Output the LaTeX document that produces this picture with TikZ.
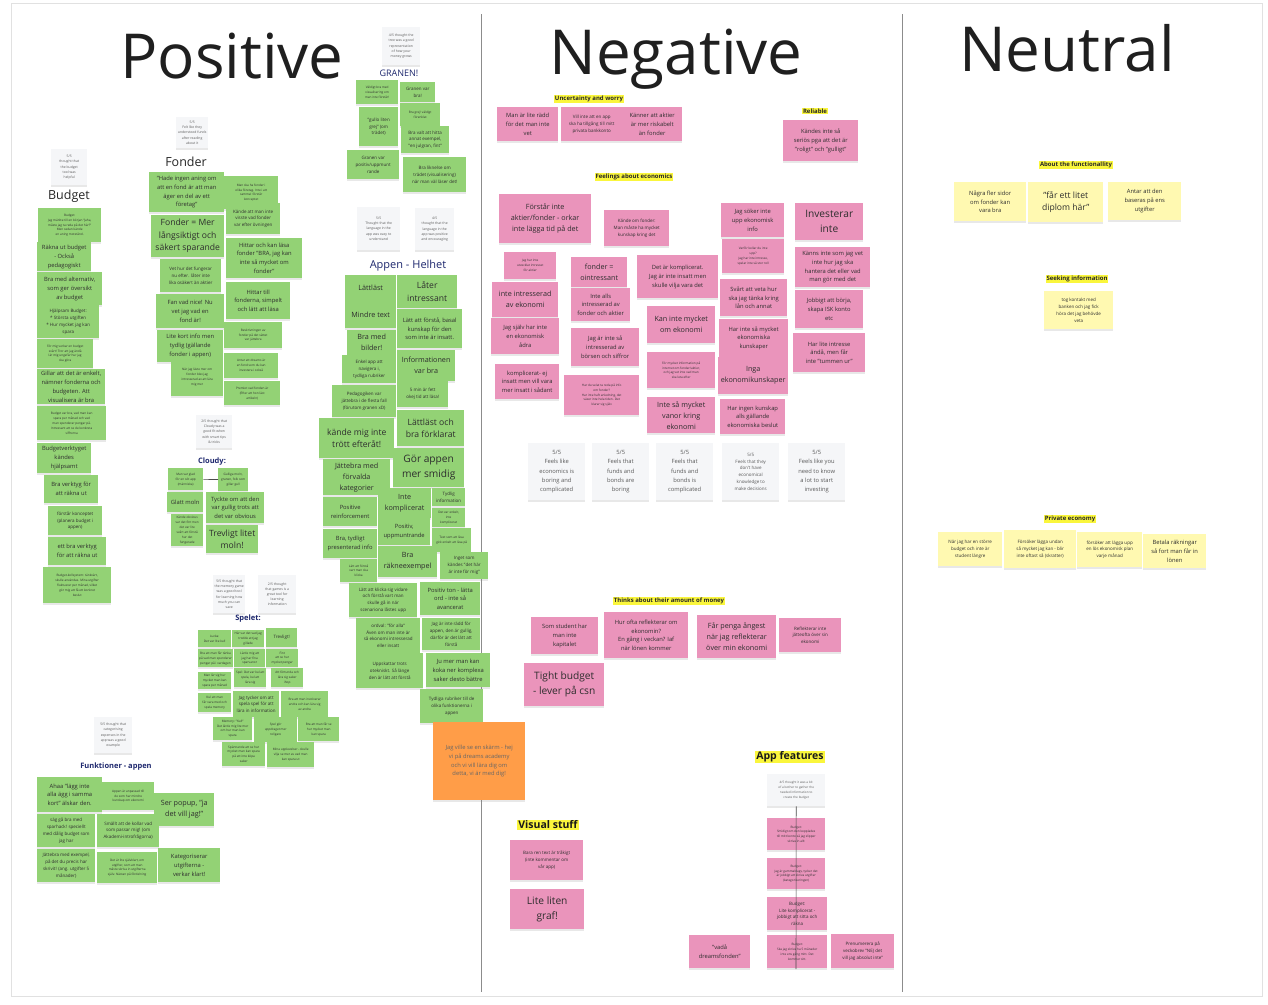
\documentclass[tikz,border=0pt]{standalone}
\usepackage{fontspec}
\setmainfont{Open Sans}
\usetikzlibrary{shadows}
\definecolor{NoteGreen}{RGB}{147,210,117}
\definecolor{NotePink}{RGB}{234,148,187}
\definecolor{NoteYellow}{RGB}{255,249,177}
\definecolor{NoteGray}{RGB}{245,246,248}
\definecolor{NoteOrange}{RGB}{255,157,72}
\definecolor{MarkYellow}{RGB}{250,246,60}
\definecolor{LabelNavy}{RGB}{30,40,110}
\definecolor{NoteText}{RGB}{45,45,45}
\definecolor{FrameGray}{RGB}{225,225,225}
\definecolor{SplitGray}{RGB}{140,140,140}

\begin{document}
\begin{tikzpicture}[x=1pt,y=-1pt,
  note/.style={anchor=north west, inner sep=1pt, align=center, text=NoteText,
    drop shadow={shadow xshift=0pt, shadow yshift=-2pt, opacity=0.18}},
  sz/.style 2 args={minimum width=#1pt, minimum height=#2pt},
  gnote/.style={note, fill=NoteGreen},
  pnote/.style={note, fill=NotePink},
  ynote/.style={note, fill=NoteYellow},
  wnote/.style={note, fill=NoteGray, text=black!65},
  onote/.style={note, fill=NoteOrange, text=black!60},
  fA/.style={font=\fontsize{3.1}{4.9}\selectfont},
  fG/.style={font=\fontsize{3.4}{5.2}\selectfont},
  fB/.style={font=\fontsize{4.5}{6.8}\selectfont},
  fC/.style={font=\fontsize{5.8}{8.8}\selectfont},
  fQ/.style={font=\fontsize{5.8}{9.2}\selectfont},
  fD/.style={font=\fontsize{7.2}{11}\selectfont},
  fE/.style={font=\fontsize{8.6}{12.5}\selectfont},
  fF/.style={font=\fontsize{10.2}{15}\selectfont},
  title/.style={anchor=base, inner sep=0pt, text=black!88, font=\fontsize{62}{70}\selectfont},
  cat/.style={inner sep=0pt, text=black!85, font=\fontsize{12.5}{14}\selectfont},
  subcat/.style={inner sep=0pt, text=LabelNavy, font=\bfseries\fontsize{7.5}{9}\selectfont},
  tagmark/.style={fill=MarkYellow, inner sep=0.7pt, text=black!85, font=\bfseries\fontsize{6}{7}\selectfont},
  bigtag/.style={fill=MarkYellow, inner sep=1pt, text=black!90, font=\bfseries\fontsize{10.5}{12}\selectfont},
  link/.style={draw=black!70, line width=0.6pt},
  frame/.style={draw=FrameGray, line width=0.8pt},
  divider/.style={draw=SplitGray, line width=0.8pt}]

  \fill[white] (0,0) rectangle (1268,1004);
  \useasboundingbox (0,0) rectangle (1268,1004);
  \draw[frame] (11,3) rectangle (1262,996);
  \draw[divider] (481,14) -- (481,992);
  \draw[divider] (902,14) -- (902,992);

  \node[title] (tpos) at (232,78) {Positive};
  \node[title] (tneg) at (676,74) {Negative};
  \node[title] (tneu) at (1067,71) {Neutral};

  % Positive -- Budget
  \node[wnote, sz={36}{36}, fG] (wbud) at (51,149) {5/5\\ thought that\\ the budget\\ tool was\\ helpful};
  \node[cat] (lbud) at (69,196) {Budget};
  \node[gnote, sz={63}{34}, fA] (b1) at (38,208) {Budget:\\ Jag märkte till en början "Jaha,\\ måste jag ta reda på det här?"\\ Men sedan kände\\ en aning motstånd.};
  \node[gnote, sz={54}{29}, fC] (b2) at (37,242) {Räkna ut budget\\ - Också\\ pedagogiskt};
  \node[gnote, sz={65}{33}, fC] (b3) at (37,272) {Bra med alternativ,\\ som ger översikt\\ av budget};
  \node[gnote, sz={62}{33}, fB] (b4) at (37,305) {Hjälpsam Budget:\\ * Största utgiften\\ * Hur mycket jag kan\\ spara};
  \node[gnote, sz={56}{29}, fA] (b5) at (37,339) {För mig verkar en budget\\ svårt! Tror att jag ändå\\ lär mig ungefär hur jag\\ ska göra};
  \node[gnote, sz={68}{35}, fC] (b6) at (37,369) {Gillar att det är enkelt,\\ nämner fonderna och\\ budgeten. Att\\ visualisera är bra};
  \node[gnote, sz={69}{34}, fA] (b7) at (37,406) {Budget var bra, vad man kan\\ spara per månad och vad\\ man spenderar pengar på.\\ Intressant att se de konkreta\\ siffrorna};
  \node[gnote, sz={54}{30}, fC] (b8) at (37,443) {Budgetverktyget\\ kändes\\ hjälpsamt};
  \node[gnote, sz={54}{28}, fC] (b9) at (44,475) {Bra verktyg för\\ att räkna ut};
  \node[gnote, sz={54}{29}, fB] (b10) at (48,506) {förstår konceptet\\ (planera budget i\\ appen)};
  \node[gnote, sz={58}{28}, fC] (b11) at (48,537) {ett bra verktyg\\ för att räkna ut};
  \node[gnote, sz={68}{36}, fA] (b12) at (43,567) {Budget-kollsystem: tänkvärt,\\ skulle användas. Mina utgifter\\ fluktuerar per månad, vilket\\ gör mig att få ett konkret\\ beslut};

  % Positive -- Fonder
  \node[wnote, sz={32}{31}, fG] (wfon) at (176,117) {5/5\\ Felt like they\\ understood funds\\ after reading\\ about it};
  \node[cat] (lfon) at (186,162) {Fonder};
  \node[gnote, sz={75}{40}, fC] (f1) at (149,172) {"Hade ingen aning om\\ att en fond är att man\\ äger en del av ett\\ företag"};
  \node[gnote, sz={73}{42}, fE] (f2) at (151,215) {Fonder = Mer\\ långsiktigt och\\ säkert sparande};
  \node[gnote, sz={61}{33}, fB] (f3) at (160,259) {Vet hur det fungerar\\ nu efter. låter inte\\ lika osäkert än aktier};
  \node[gnote, sz={68}{34}, fC] (f4) at (156,294) {Fan vad nice! Nu\\ vet jag vad en\\ fond är!};
  \node[gnote, sz={66}{32}, fC] (f5) at (157,330) {Lite kort info men\\ tydlig (gällande\\ fonder i appen)};
  \node[gnote, sz={52}{38}, fA] (f6) at (171,358) {När jag läste mer om\\ fonder blev jag\\ intresserad av att lära\\ mig mer};
  \node[gnote, sz={54}{33}, fA] (f7) at (224,176) {Man ska ha fonder i\\ olika företag. Inte i att\\ samma! förstår\\ konceptet};
  \node[gnote, sz={54}{31}, fB] (f8) at (226,203) {Kände att man inte\\ visste vad fonder\\ var efter övningen};
  \node[gnote, sz={76}{40}, fC] (f9) at (226,238) {Hittar och kan läsa\\ fonder "BRA, jag kan\\ inte så mycket om\\ fonder"};
  \node[gnote, sz={64}{37}, fC] (f10) at (226,282) {Hittar till\\ fonderna, simpelt\\ och lätt att läsa};
  \node[gnote, sz={58}{26}, fA] (f11) at (224,322) {Beskrivningen av\\ fonder på det sättet\\ var jättebra};
  \node[gnote, sz={54}{25}, fA] (f12) at (224,353) {Antar att dreams är\\ en fond som du kan\\ investera i också};
  \node[gnote, sz={56}{24}, fA] (f13) at (224,381) {Premiot vad fonden är\\ (Efter att hon läst\\ artikeln)};

  % Positive -- Cloudy
  \node[wnote, sz={36}{33}, fG] (wcl) at (196,415) {2/5 thought that\\ Cloudy was a\\ good fit when\\ with smart tips\\ \& tricks};
  \node[subcat] (lcl) at (212,462) {Cloudy:};
  \node[gnote, sz={35}{22}, fA] (cl1) at (168,468) {Man var glad\\ för en söt app\\ (människa)};
  \node[gnote, sz={30}{23}, fA] (cl2) at (218,468) {Gulliga moln,\\ granen, folk som\\ gillar gull};
  \node[gnote, sz={36}{20}, fC] (cl3) at (167,492) {Glatt moln};
  \node[gnote, sz={58}{31}, fC] (cl4) at (206,492) {Tyckte om att den\\ var gullig trots att\\ det var obvious};
  \node[gnote, sz={32}{32}, fA] (cl5) at (171,514) {Kände obvious\\ var det fint men\\ det var lite\\ svårt att förstå\\ hur det\\ fungerade};
  \node[gnote, sz={52}{28}, fE] (cl6) at (206,525) {Trevligt litet\\ moln!};
  \draw[link] (cl1) -- (cl2);

  % Positive -- Spelet
  \node[wnote, sz={32}{38}, fG] (wsp1) at (213,575) {5/5 thought that\\ the memory game\\ was a good tool\\ for learning how\\ much you can\\ save};
  \node[wnote, sz={38}{38}, fG] (wsp2) at (258,575) {2/5 thought\\ that games is a\\ great tool for\\ learning\\ information};
  \node[subcat] (lsp) at (248,619) {Spelet:};
  \node[gnote, sz={33}{17}, fA] (sp1) at (198,630) {Lucka:\\ Det var lite kul!};
  \node[gnote, sz={32}{17}, fA] (sp2) at (232,630) {Här var det vad jag\\ trodde att jag\\ gillade};
  \node[gnote, sz={31}{19}, fB] (sp3) at (266,628) {Trevligt!};
  \node[gnote, sz={33}{18}, fA] (sp4) at (198,649) {Bra att man får tänka\\ på vad man spenderar\\ pengar på i vardagen};
  \node[gnote, sz={31}{18}, fA] (sp5) at (234,649) {Lärde mig att\\ jag har fina\\ sparvanor};
  \node[gnote, sz={32}{18}, fA] (sp6) at (266,649) {Fint\\ att se hur\\ mycket pengar};
  \node[gnote, sz={33}{17}, fA] (sp7) at (198,672) {Man lär sig hur\\ mycket man kan\\ spara per månad};
  \node[gnote, sz={32}{19}, fA] (sp8) at (234,668) {Spel: Det var kul att\\ spela, kul att\\ lära sig};
  \node[gnote, sz={32}{19}, fA] (sp9) at (271,668) {Att förtunda och\\ lära sig saker\\ ihop};
  \node[gnote, sz={33}{19}, fA] (sp10) at (198,693) {Kul att man\\ får vara med och\\ spela memory};
  \node[gnote, sz={46}{26}, fB] (sp11) at (233,691) {Jag tycker om att\\ spela spel för att\\ lära in information};
  \node[gnote, sz={47}{26}, fA] (sp12) at (281,691) {Bra att man involverar\\ andra och kan lära sig\\ av andra};
  \node[gnote, sz={39}{23}, fA] (sp13) at (213,717) {Memory: "Kul!"\\ Det lärde mig lite mer\\ om hur man kan\\ spara};
  \node[gnote, sz={43}{25}, fA] (sp14) at (254,717) {Spel gör\\ uppdraget mer\\ roligare};
  \node[gnote, sz={41}{24}, fA] (sp15) at (298,717) {Bra att man får se\\ hur mycket man\\ kan spara};
  \node[gnote, sz={43}{24}, fA] (sp16) at (222,742) {Spännande att se hur\\ mycket man kan spara\\ på att inte köpa\\ saker};
  \node[gnote, sz={47}{25}, fA] (sp17) at (267,742) {Mina upplevelser - skulle\\ vilja se mer av vad man\\ kan spara ut};

  % Positive -- Funktioner
  \node[wnote, sz={38}{36}, fG] (wfu) at (94,717) {5/5 thought that\\ categorising\\ expenses in the\\ app was a good\\ example};
  \node[subcat] (lfu) at (116,767) {Funktioner - appen};
  \node[gnote, sz={65}{35}, fC] (fu1) at (37,777) {Ahaa "lägg inte\\ alla ägg i samma\\ kort" älskar den.};
  \node[gnote, sz={52}{28}, fA] (fu2) at (102,782) {Appen är anpassad till\\ de som har mindre\\ kunskap om ekonomi};
  \node[gnote, sz={60}{33}, fD] (fu3) at (154,793) {Ser popup, "ja\\ det vill jag!"};
  \node[gnote, sz={58}{33}, fB] (fu4) at (37,814) {säg gå bra med\\ sparhack! speciellt\\ med dålig budget som\\ jag har};
  \node[gnote, sz={62}{33}, fB] (fu5) at (97,814) {Smällt att de kollar vad\\ som passar mig! (om\\ Akademi-introfrågorna)};
  \node[gnote, sz={58}{33}, fB] (fu6) at (37,849) {Jättebra med exempel,\\ på det du precis har\\ skrivit! (ang. utgifter 5\\ månader)};
  \node[gnote, sz={60}{31}, fA] (fu7) at (97,852) {Det är lite självklart, om\\ utgifter, som att man\\ måste skriva in utgifterna\\ själv. Nästan på fördelning};
  \node[gnote, sz={62}{34}, fC] (fu8) at (158,848) {Kategoriserar\\ utgifterna -\\ verkar klart!};

  % Positive -- Granen
  \node[wnote, sz={38}{38}, fG] (wgr) at (382,27) {4/5 thought the\\ tree was a good\\ representation\\ of how your\\ money grows};
  \node[inner sep=0pt, text=LabelNavy, font=\fontsize{9}{10}\selectfont] (lgr) at (399,73) {GRANEN!};
  \node[gnote, sz={42}{24}, fA] (gr1) at (356,80) {Väldigt bra med\\ visualisering om\\ man inte förstår!};
  \node[gnote, sz={35}{20}, fB] (gr2) at (400,82) {Granen var\\ bra!};
  \node[gnote, sz={39}{39}, fB] (gr3) at (359,107) {"gullo liten\\ grej" (om\\ trädet)};
  \node[gnote, sz={40}{23}, fA] (gr4) at (400,103) {Bra grej! väldigt\\ förenklat};
  \node[gnote, sz={48}{27}, fB] (gr5) at (401,126) {Bra valt att hitta\\ annat exempel,\\ "en julgran, fint"};
  \node[gnote, sz={52}{29}, fB] (gr6) at (347,150) {Granen var\\ positiv/uppmunt\\ rande};
  \node[gnote, sz={63}{35}, fB] (gr7) at (403,157) {Bra liknelse om\\ trädet (visualisering)\\ när man väl läser det!};

  % Positive -- Appen - Helhet
  \node[wnote, sz={43}{43}, fG] (wah1) at (357,207) {5/5\\ Thought that the\\ language in the\\ app was easy to\\ understand};
  \node[wnote, sz={39}{42}, fG] (wah2) at (415,208) {4/5\\ thought that the\\ language in the\\ app was positive\\ and encouraging};
  \node[inner sep=0pt, text=LabelNavy, font=\fontsize{11}{12}\selectfont] (lah) at (408,266) {Appen - Helhet};
  \node[gnote, sz={51}{26}, fD] (ah1) at (345,275) {Lättläst};
  \node[gnote, sz={60}{33}, fE] (ah2) at (397,275) {Låter\\ intressant};
  \node[gnote, sz={51}{27}, fD] (ah3) at (345,301) {Mindre text};
  \node[gnote, sz={65}{39}, fC] (ah4) at (397,309) {Lätt att förstå, basal\\ kunskap för den\\ som inte är insatt.};
  \node[gnote, sz={49}{25}, fD] (ah5) at (347,330) {Bra med\\ bilder!};
  \node[gnote, sz={58}{31}, fD] (ah6) at (397,350) {Informationen\\ var bra};
  \node[gnote, sz={54}{28}, fB] (ah7) at (342,355) {Enkel app att\\ navigera i,\\ tydliga rubriker};
  \node[gnote, sz={51}{26}, fB] (ah8) at (397,381) {5 min är fett\\ okej tid att läsa!};
  \node[gnote, sz={64}{32}, fB] (ah9) at (332,385) {Pedagogiken var\\ jättebra i de flesta fall\\ (förutom granen xD)};
  \node[gnote, sz={67}{36}, fE] (ah10) at (397,410) {Lättläst och\\ bra förklarat};
  \node[gnote, sz={75}{40}, fE] (ah11) at (319,418) {kände mig inte\\ trött efteråt!};
  \node[gnote, sz={71}{39}, fF] (ah12) at (393,448) {Gör appen\\ mer smidig};
  \node[gnote, sz={67}{36}, fD] (ah13) at (323,459) {Jättebra med\\ förvalda\\ kategorier};
  \node[gnote, sz={53}{30}, fD] (ah14) at (378,488) {Inte\\ komplicerat};
  \node[gnote, sz={33}{18}, fB] (ah15) at (432,488) {Tydlig\\ information};
  \node[gnote, sz={54}{29}, fC] (ah16) at (323,497) {Positive\\ reinforcement};
  \node[gnote, sz={33}{19}, fA] (ah17) at (432,508) {Det var enkelt,\\ inte\\ komplicerat};
  \node[gnote, sz={52}{27}, fC] (ah18) at (378,518) {Positiv,\\ uppmuntrande};
  \node[gnote, sz={54}{29}, fC] (ah19) at (323,529) {Bra, tydligt\\ presenterad info};
  \node[gnote, sz={39}{24}, fA] (ah20) at (432,528) {Text som att läsa\\ gick enkelt att läsa på};
  \node[gnote, sz={59}{31}, fD] (ah21) at (378,546) {Bra\\ räkneexempel};
  \node[gnote, sz={48}{27}, fB] (ah22) at (440,552) {Inget som\\ kändes "det här\\ är inte för mig"};
  \node[gnote, sz={37}{23}, fA] (ah23) at (340,559) {Lätt att förstå\\ vart man ska\\ klicka};
  \node[gnote, sz={68}{34}, fB] (ah24) at (349,583) {Lätt att klicka sig vidare\\ och förstå vart man\\ skulle gå in när\\ scenariona låstes upp};
  \node[gnote, sz={60}{33}, fC] (ah25) at (420,582) {Positiv ton - lätta\\ ord - inte så\\ avancerat};
  \node[gnote, sz={64}{35}, fB] (ah26) at (356,618) {ordval: "för alla"\\ Även om man inte är\\ så ekonomi intresserad\\ eller insatt};
  \node[gnote, sz={58}{32}, fB] (ah27) at (422,618) {Jag är inte rädd för\\ appen, den är gullig,\\ därför är det lätt att\\ förstå};
  \node[gnote, sz={67}{35}, fB] (ah28) at (356,653) {Uppskattar trots\\ otekniskt. Så länge\\ den är lätt att förstå};
  \node[gnote, sz={64}{34}, fC] (ah29) at (426,653) {Ju mer man kan\\ koka ner komplexa\\ saker desto bättre};
  \node[gnote, sz={63}{34}, fB] (ah30) at (420,689) {Tydliga rubriker till de\\ olika funktionerna i\\ appen};
  \node[onote, sz={92}{78}, fC] (or1) at (433,722) {Jag ville se en skärm - hej\\ vi på dreams academy\\ och vi vill lära dig om\\ detta, vi är med dig!};

  % Negative
  \node[tagmark] (luw) at (589,99) {Uncertainty and worry};
  \node[pnote, sz={61}{34}, fC] (uw1) at (497,107) {Man är lite rädd\\ för det man inte\\ vet};
  \node[pnote, sz={61}{34}, fB] (uw2) at (561,107) {Vill inte att en app\\ ska ha tillgång till mitt\\ privata bankkonto};
  \node[pnote, sz={60}{34}, fC] (uw3) at (622,107) {Känner att aktier\\ är mer riskabelt\\ än fonder};
  \node[tagmark] (lrel) at (815,111) {Reliable};
  \node[pnote, sz={75}{41}, fC] (rel1) at (783,120) {Kändes inte så\\ seriös pga att det är\\ "roligt" och "gulligt"};
  \node[tagmark] (lfe) at (634,177) {Feelings about economics};
  \node[pnote, sz={92}{49}, fD] (fe1) at (499,194) {Förstår inte\\ aktier/fonder - orkar\\ inte lägga tid på det};
  \node[pnote, sz={65}{36}, fB] (fe2) at (604,210) {Kände om fonder:\\ Man måste ha mycket\\ kunskap kring det};
  \node[pnote, sz={63}{34}, fC] (fe3) at (721,203) {Jag söker inte\\ upp ekonomisk\\ info};
  \node[pnote, sz={68}{37}, fF] (fe4) at (795,203) {Investerar\\ inte};
  \node[pnote, sz={52}{27}, fA] (fe5) at (504,252) {Jag har inte\\ utvecklat intresset\\ för aktier};
  \node[pnote, sz={56}{30}, fD] (fe6) at (571,257) {fonder =\\ ointressant};
  \node[pnote, sz={81}{43}, fC] (fe7) at (637,255) {Det är komplicerat.\\ Jag är inte insatt men\\ skulle vilja vara det};
  \node[pnote, sz={62}{34}, fA] (fe8) at (722,239) {Varför kollar du inte\\ upp?\\ Jag har inte intresse,\\ spelar inte så stor roll};
  \node[pnote, sz={75}{40}, fC] (fe9) at (795,247) {Känns inte som jag vet\\ inte hur jag ska\\ hantera det eller vad\\ man gör med det};
  \node[pnote, sz={66}{35}, fD] (fe10) at (492,282) {inte intresserad\\ av ekonomi};
  \node[pnote, sz={59}{33}, fC] (fe11) at (571,288) {Inte alls\\ intresserad av\\ fonder och aktier};
  \node[pnote, sz={67}{37}, fC] (fe12) at (720,279) {Svårt att veta hur\\ ska jag tänka kring\\ lån och annat};
  \node[pnote, sz={68}{38}, fC] (fe13) at (795,290) {Jobbigt att börja,\\ skapa ISK konto\\ etc};
  \node[pnote, sz={68}{36}, fC] (fe14) at (491,318) {Jag själv har inte\\ en ekonomisk\\ ådra};
  \node[pnote, sz={68}{37}, fD] (fe15) at (647,306) {Kan inte mycket\\ om ekonomi};
  \node[pnote, sz={68}{38}, fC] (fe16) at (571,328) {Jag är inte så\\ intresserad av\\ börsen och siffror};
  \node[pnote, sz={69}{38}, fC] (fe17) at (719,319) {Har inte så mycket\\ ekonomiska\\ kunskaper};
  \node[pnote, sz={72}{39}, fC] (fe18) at (793,333) {Har lite intresse\\ ändå, men får\\ inte "tummen ur"};
  \node[pnote, sz={64}{35}, fC] (fe19) at (495,364) {komplicerat- ej\\ insatt men vill vara\\ mer insatt i sådant};
  \node[pnote, sz={75}{40}, fA] (fe20) at (564,375) {Har du velat ta reda på info\\ om fonder?\\ Har inte haft anledning, det\\ växer inte hela tiden. Det\\ klarar sig själv};
  \node[pnote, sz={68}{36}, fA] (fe21) at (647,352) {För mycket information på\\ internet om fonder/aktier,\\ och jag vet inte vad man\\ ska leta efter};
  \node[pnote, sz={70}{37}, fD] (fe22) at (718,357) {Inga\\ ekonomikunskaper};
  \node[pnote, sz={68}{36}, fD] (fe23) at (647,397) {Inte så mycket\\ vanor kring\\ ekonomi};
  \node[pnote, sz={65}{35}, fC] (fe24) at (720,399) {Har ingen kunskap\\ alls gällande\\ ekonomiska beslut};
  \node[wnote, sz={57}{57}, fQ] (wq1) at (528,443) {5/5\\ Feels like\\ economics is\\ boring and\\ complicated};
  \node[wnote, sz={57}{57}, fQ] (wq2) at (592,443) {5/5\\ Feels that\\ funds and\\ bonds are\\ boring};
  \node[wnote, sz={57}{57}, fQ] (wq3) at (656,443) {5/5\\ Feels that\\ funds and\\ bonds is\\ complicated};
  \node[wnote, sz={57}{57}, fB] (wq4) at (722,443) {5/5\\ Feels that they\\ don't have\\ economical\\ knowledge to\\ make decisions};
  \node[wnote, sz={57}{57}, fQ] (wq5) at (788,443) {5/5\\ Feels like you\\ need to know\\ a lot to start\\ investing};
  \node[tagmark] (ltm) at (669,601) {Thinks about their amount of money};
  \node[pnote, sz={67}{37}, fC] (tm1) at (531,617) {Som student har\\ man inte\\ kapitalet};
  \node[pnote, sz={84}{46}, fC] (tm2) at (604,612) {Hur ofta reflekterar om\\ ekonomin?\\ En gång i veckan? Iaf\\ när lönen kommer};
  \node[pnote, sz={79}{43}, fD] (tm3) at (697,615) {Får penga ångest\\ när jag reflekterar\\ över min ekonomi};
  \node[pnote, sz={62}{34}, fB] (tm4) at (779,618) {Reflekterar inte\\ jätteofta över sin\\ ekonomi};
  \node[pnote, sz={80}{43}, fF] (tm5) at (524,663) {Tight budget\\ - lever på csn};
  \node[bigtag] (lvs) at (548,825) {Visual stuff};
  \node[pnote, sz={73}{40}, fB] (vs1) at (510,840) {Bara ren text är tråkigt\\ (inte kommentar om\\ vår app)};
  \node[pnote, sz={74}{40}, fF] (vs2) at (510,889) {Lite liten\\ graf!};
  \node[bigtag] (laf) at (790,757) {App features};
  \node[wnote, sz={58}{32}, fA] (waf) at (767,774) {4/5 thought it was a bit\\ of a bother to gather the\\ needed information to\\ create the budget};
  \node[pnote, sz={58}{32}, fA] (af1) at (767,818) {Budget:\\ Smidigt om den kopplades\\ till mitt konto så jag slipper\\ skriva in allt};
  \node[pnote, sz={58}{31}, fA] (af2) at (767,858) {Budget:\\ Jag är gammaldags, tycker det\\ är jobbigt att skriva utgifter\\ (kategoriseringen)};
  \node[pnote, sz={60}{33}, fB] (af3) at (767,897) {Budget:\\ Lite komplicerat -\\ jobbigt att sitta och\\ räkna};
  \node[pnote, sz={60}{33}, fA] (af4) at (767,935) {Budget:\\ Ska jag skriva ha 5 månader\\ inte ens gång mitt. Det\\ kommer sitt.};
  \node[pnote, sz={61}{33}, fC] (af5) at (689,935) {"vadå\\ dreamsfonden"};
  \node[pnote, sz={63}{34}, fB] (af6) at (831,934) {Prenumerera på\\ veckobrev "NEJ det\\ vill jag absolut inte"};
  \coordinate (afend) at (796,969);
  \draw[link] (waf.south) -- (afend);

  % Neutral
  \node[tagmark] (lnf) at (1076,165) {About the functionallity};
  \node[ynote, sz={72}{39}, fC] (nf1) at (954,182) {Några fler sidor\\ om fonder kan\\ vara bra};
  \node[ynote, sz={75}{40}, fE] (nf2) at (1028,182) {"får ett litet\\ diplom här"};
  \node[ynote, sz={73}{38}, fC] (nf3) at (1108,182) {Antar att den\\ baseras på ens\\ utgifter};
  \node[tagmark] (lsi) at (1077,279) {Seeking information};
  \node[ynote, sz={69}{38}, fB] (si1) at (1044,291) {tog kontakt med\\ banken och jag fick\\ höra det jag behövde\\ veta};
  \node[tagmark] (lpe) at (1070,519) {Private economy};
  \node[ynote, sz={64}{34}, fB] (pe1) at (938,532) {När jag har en större\\ budget och inte är\\ student längre};
  \node[ynote, sz={72}{38}, fB] (pe2) at (1004,530) {Försöker lägga undan\\ så mycket jag kan - blir\\ inte oftast så (skratter)};
  \node[ynote, sz={65}{35}, fB] (pe3) at (1077,532) {försöker att lägga upp\\ en lös ekonomisk plan\\ varje månad};
  \node[ynote, sz={63}{34}, fC] (pe4) at (1143,534) {Betala räkningar\\ så fort man får in\\ lönen};
\end{tikzpicture}
\end{document}
